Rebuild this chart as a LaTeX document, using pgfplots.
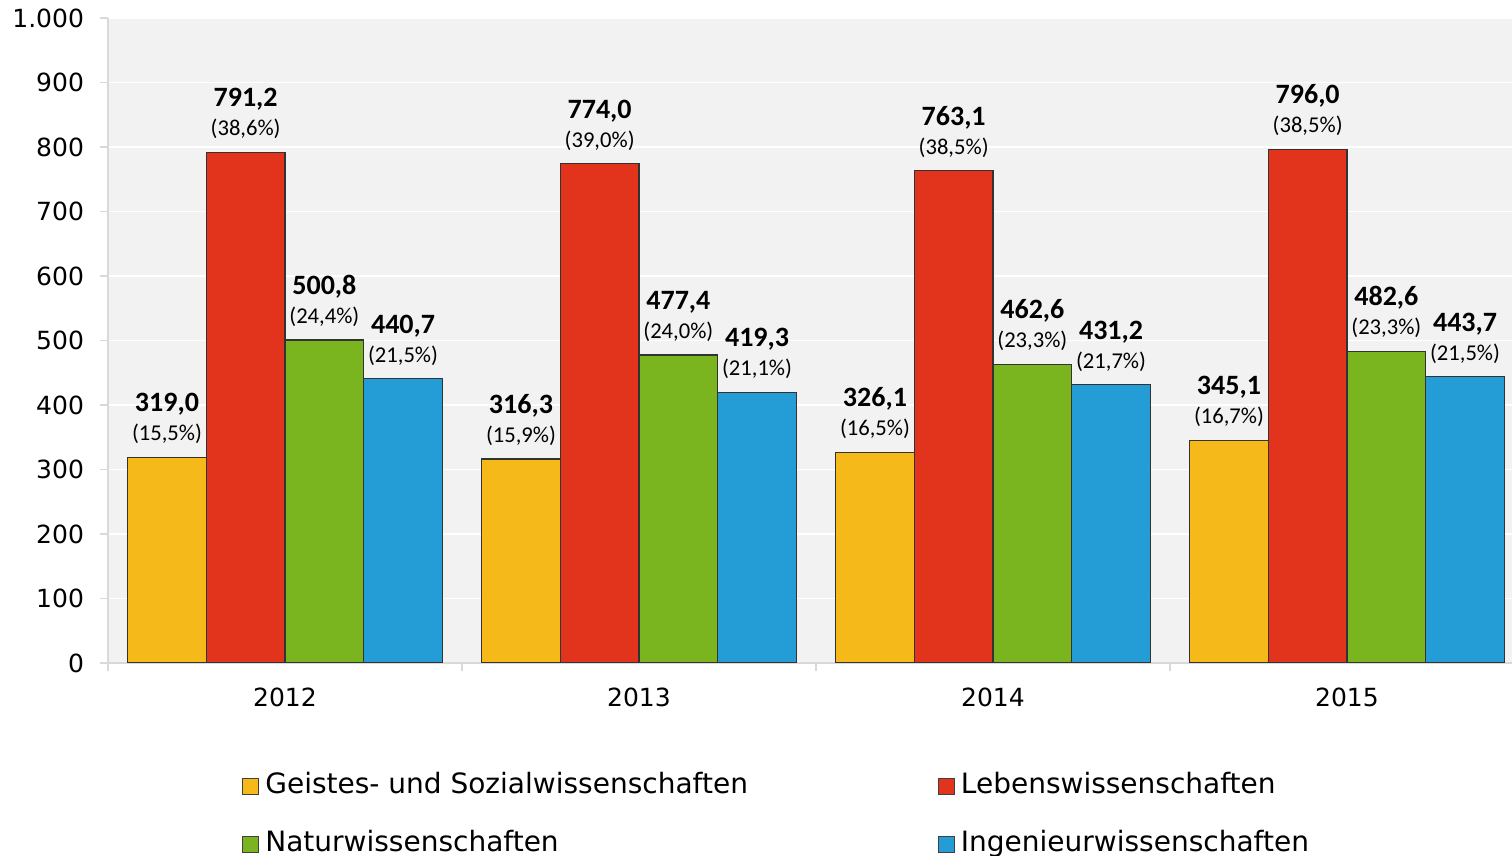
\documentclass[border=0pt]{standalone}
\usepackage{fontspec}
\setmainfont{DejaVu Sans}
\newfontfamily\carlito{Carlito}
\usepackage{pgfplots}
\usepackage{pgfplotstable}
\pgfplotsset{compat=1.18}
\definecolor{cGeist}{HTML}{F6B91A}
\definecolor{cLeben}{HTML}{E2341D}
\definecolor{cNatur}{HTML}{7AB520}
\definecolor{cIng}{HTML}{249CD5}
\definecolor{bgc}{HTML}{F2F2F2}
\definecolor{axc}{HTML}{D9D9D9}
\pgfplotstableread{
x y pct
0 319.0 15,5
1 316.3 15,9
2 326.1 16,5
3 345.1 16,7
}\geist
\pgfplotstableread{
x y pct
0 791.2 38,6
1 774.0 39,0
2 763.1 38,5
3 796.0 38,5
}\leben
\pgfplotstableread{
x y pct
0 500.8 24,4
1 477.4 24,0
2 462.6 23,3
3 482.6 23,3
}\natur
\pgfplotstableread{
x y pct
0 440.7 21,5
1 419.3 21,1
2 431.2 21,7
3 443.7 21,5
}\ing
\begin{document}
\begin{tikzpicture}
\begin{axis}[name=a, scale only axis, width=702pt, height=322.5pt,
  xmin=-0.5, xmax=3.4661, ymin=0, ymax=1000,
  ybar=0pt, bar width=39.35pt,
  axis background/.style={fill=bgc},
  axis x line*=bottom, axis y line*=left,
  axis line style={draw=axc, -, line width=0.8pt},
  ytick={0,100,...,1000},
  ymajorgrids, grid style={white, line width=0.8pt},
  xtick={0,1,2,3}, xticklabels={2012,2013,2014,2015},
  minor xtick={-0.5,0.5,1.5,2.5},
  major x tick style={draw=none},
  minor x tick style={draw=axc, line width=0.8pt},
  y tick style={draw=axc, line width=0.8pt},
  tick align=outside,
  major tick length=4pt, minor tick length=4pt,
  tick label style={font=\fontsize{12.5}{15}\selectfont},
  /pgf/number format/assume math mode=true,
  /pgf/number format/1000 sep={.},
  xticklabel style={yshift=-5pt},
  yticklabel style={xshift=-4.5pt},
  point meta=explicit symbolic,
  visualization depends on={rawy \as \rawyval},
  nodes near coords={{\fontsize{14}{14.5}\selectfont\bfseries\pgfmathprintnumber[fixed,fixed zerofill,precision=1,use comma]{\rawyval}}\\(\pgfplotspointmeta\%)},
  nodes near coords style={anchor=south, align=center, inner sep=0pt, yshift=6.5pt,
    font=\carlito\fontsize{11.3}{14.5}\selectfont, text=black},
  every axis plot/.append style={draw=black!80, line width=0.6pt},
  legend columns=2,
  legend cell align=left,
  legend image code/.code={\draw[#1, draw=black!75, line width=0.5pt] (0pt,-4pt) rectangle (8pt,4pt);},
  legend style={at={(0.0954,-0.1665)}, anchor=north west, draw=none, fill=none,
    font=\fontsize{14}{16}\selectfont,
    /tikz/every even column/.append style={column sep=92pt},
    row sep=13pt, inner sep=0pt,
    nodes={inner ysep=1.5pt, inner xsep=3pt, text height=10pt, text depth=3pt}},
]
\addplot[fill=cGeist] table[x=x,y=y,meta=pct]{\geist};
\addplot[fill=cLeben] table[x=x,y=y,meta=pct]{\leben};
\addplot[fill=cNatur] table[x=x,y=y,meta=pct]{\natur};
\addplot[fill=cIng] table[x=x,y=y,meta=pct]{\ing};
\legend{Geistes- und Sozialwissenschaften,Lebenswissenschaften,Naturwissenschaften,Ingenieurwissenschaften}
\end{axis}
\pgfresetboundingbox
\path ([xshift=-54pt,yshift=-96.5pt]a.south west) rectangle ([yshift=9pt]a.north east);
\end{tikzpicture}
\end{document}
